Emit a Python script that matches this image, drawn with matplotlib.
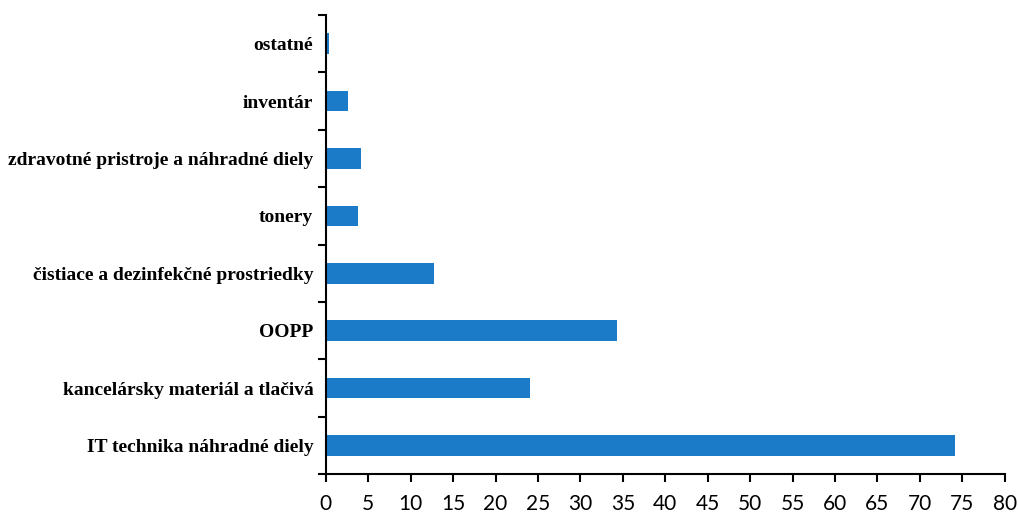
import matplotlib
matplotlib.use("Agg")
import matplotlib.pyplot as plt
import numpy as np

categories = ["IT technika náhradné diely",
              "kancelársky materiál a tlačivá",
              "OOPP",
              "čistiace a dezinfekčné prostriedky",
              "tonery",
              "zdravotné pristroje a náhradné diely",
              "inventár",
              "ostatné"]
values = [74.1, 24.1, 34.3, 12.8, 3.8, 4.2, 2.6, 0.4]
xticks = list(range(0, 85, 5))

fig = plt.figure(figsize=(10.18, 5.17), dpi=100)
ax = fig.add_axes([0.320, 0.083, 0.667, 0.888])

y = np.arange(len(categories))
ax.barh(y, values, height=0.36, color="#1b7bc9")

ax.set_xlim(0, 80)
ax.set_ylim(-0.5, len(categories) - 0.5)
ax.set_xticks(xticks)
ax.set_xticklabels([str(t) for t in xticks], family="Lato", fontsize=15)
ax.set_yticks(y)
ax.set_yticklabels(categories, family="Liberation Serif", fontsize=14,
                   fontweight="semibold")
ax.set_yticks(np.arange(-0.5, len(categories), 1), minor=True)

ax.tick_params(axis="y", which="major", length=0, pad=9)
ax.tick_params(axis="y", which="minor", length=6, width=1.5, direction="out")
ax.tick_params(axis="x", length=6, width=1.5, direction="out", pad=8)

for s in ["top", "right"]:
    ax.spines[s].set_visible(False)
for s in ["left", "bottom"]:
    ax.spines[s].set_linewidth(1.5)

fig.savefig("out.png", dpi=100)
